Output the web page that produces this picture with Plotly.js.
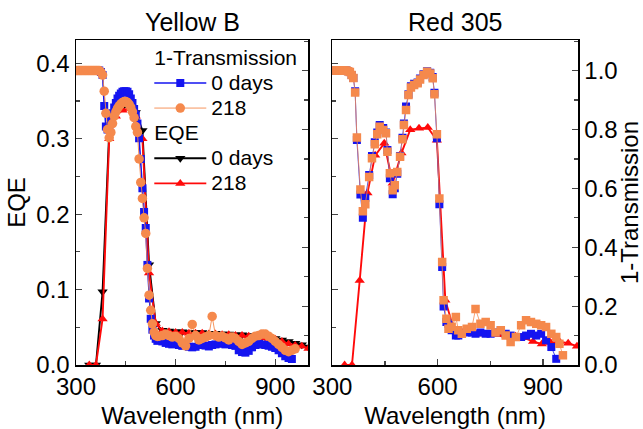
<!DOCTYPE html>
<html>
<head>
<meta charset="utf-8">
<script src="https://cdn.plot.ly/plotly-3.0.1.min.js"></script>
<style>html,body{margin:0;padding:0;background:#fff;}#chart{width:643px;height:429px;}</style>
</head>
<body>
<div id="chart"></div>
<script>
// ---------- Yellow B : 1-Transmission ----------
const wlYB_T0 = [300,305,310,315,320,325,330,335,340,345,350,355,360,365,370,375,380,385,390,395,400,405,410,415,420,425,430,435,440,445,450,455,460,465,470,475,480,485,490,495,500,505,510,515,520,525,530,535,540,545,
  550,560,570,580,590,600,610,620,630,640,650,660,670,680,690,700,710,720,730,740,750,760,770,780,790,800,810,820,830,840,850,860,870,880,890,900,910,920,930,940,950];
const tYB_0 = [1,1,1,1,1,1,1,1,1,1,1,1,1,1,1,0.995,0.985,0.88,0.81,0.80,0.81,0.835,0.855,0.875,0.89,0.905,0.915,0.922,0.928,0.93,0.93,0.928,0.92,0.905,0.89,0.87,0.85,0.82,0.77,0.70,0.60,0.52,0.465,0.34,0.226,0.157,0.12,0.10,0.089,0.082,
  0.085,0.08,0.075,0.072,0.07,0.072,0.068,0.065,0.07,0.062,0.06,0.062,0.075,0.068,0.066,0.063,0.068,0.07,0.072,0.075,0.07,0.072,0.068,0.065,0.05,0.044,0.042,0.048,0.06,0.068,0.072,0.07,0.068,0.065,0.062,0.058,0.05,0.04,0.03,0.024,0.02];
const wlYB_T218 = [300,305,310,315,320,325,330,335,340,345,350,355,360,365,370,375,380,385,390,395,400,405,410,415,420,425,430,435,440,445,450,455,460,465,470,475,480,485,490,495,500,505,510,515,520,525,530,535,540,545,
  550,560,570,580,590,600,610,620,630,640,650,660,670,680,690,700,710,720,730,740,750,760,770,780,790,800,810,820,830,840,850,860,870,880,890,900,910,920,930,940,950,960];
const tYB_218 = [1,1,1,1,1,1,1,1,1,1,1,1,1,1,1,0.995,0.985,0.93,0.855,0.80,0.772,0.79,0.82,0.845,0.86,0.872,0.88,0.887,0.892,0.895,0.895,0.892,0.885,0.875,0.86,0.84,0.81,0.79,0.70,0.62,0.566,0.50,0.447,0.328,0.237,0.186,0.14,0.112,0.10,0.097,
  0.098,0.10,0.105,0.10,0.095,0.098,0.09,0.075,0.065,0.09,0.138,0.10,0.085,0.09,0.095,0.10,0.165,0.10,0.095,0.098,0.092,0.085,0.095,0.09,0.08,0.07,0.075,0.08,0.09,0.098,0.10,0.105,0.105,0.098,0.09,0.08,0.07,0.06,0.05,0.045,0.05,0.055];
// ---------- Yellow B : EQE ----------
const wlYB_E = [340,360,380,400,420,440,460,480,500,520,540,560,580,600,620,640,660,680,700,720,740,760,780,800,820,840,860,880,900,920,940,960,980,1000];
const eYB_0 = [0,0,0.097,0.31,0.335,0.342,0.343,0.335,0.311,0.133,0.055,0.046,0.045,0.044,0.044,0.043,0.043,0.043,0.042,0.042,0.041,0.041,0.04,0.04,0.039,0.038,0.037,0.036,0.035,0.033,0.031,0.029,0.027,0.024];
const eYB_218 = [0,0,0.061,0.30,0.33,0.338,0.34,0.33,0.30,0.122,0.055,0.045,0.044,0.043,0.043,0.042,0.042,0.042,0.041,0.041,0.04,0.04,0.039,0.039,0.038,0.037,0.036,0.035,0.034,0.031,0.028,0.026,0.025,0.022];
// ---------- Red 305 : 1-Transmission ----------
const wlR_T0 = [300,305,310,315,320,325,330,335,340,345,350,355,360,365,370,380,387,394,405,413,421,428,435,445,453,457,464,472,478,485,493,500,504,510,517,524,533,543,550,560,570,579,586,591,598,605,613,617,625,631,640,652,659,669,683,698,708,722,737,751,765,780,794,808,823,838,852,866,881,895,909,924,938];
const tR_0 = [1,1,1,1,1,1,1,1,1,0.998,0.995,0.985,0.975,0.93,0.764,0.579,0.50,0.568,0.645,0.71,0.757,0.79,0.815,0.805,0.79,0.73,0.634,0.58,0.60,0.65,0.71,0.772,0.82,0.878,0.92,0.947,0.955,0.96,0.973,0.988,0.998,0.993,0.978,0.925,0.77,0.546,0.333,0.199,0.146,0.14,0.118,0.10,0.10,0.106,0.11,0.11,0.106,0.11,0.106,0.106,0.11,0.118,0.106,0.10,0.095,0.095,0.10,0.106,0.10,0.106,0.084,0.061,0.021];
const wlR_T218 = [300,305,310,315,320,325,330,335,340,345,350,355,360,365,370,380,387,394,405,413,421,428,435,445,453,457,464,472,478,485,493,500,504,510,517,524,533,543,550,560,570,579,586,591,598,605,613,617,625,631,640,652,659,669,683,698,708,722,737,751,765,780,794,808,823,838,852,866,881,895,909,924,938,947,957];
const tR_218 = [1,1,1,1,1,1,1,1,1,0.998,0.995,0.985,0.975,0.926,0.773,0.596,0.522,0.546,0.639,0.702,0.75,0.784,0.809,0.798,0.787,0.724,0.651,0.594,0.611,0.656,0.707,0.767,0.815,0.866,0.917,0.943,0.951,0.957,0.97,0.985,0.996,0.99,0.974,0.92,0.784,0.566,0.35,0.22,0.157,0.123,0.13,0.163,0.118,0.106,0.123,0.129,0.19,0.14,0.146,0.135,0.11,0.118,0.10,0.078,0.095,0.135,0.152,0.146,0.14,0.135,0.129,0.106,0.095,0.072,0.033];
// ---------- Red 305 : EQE ----------
const wlR_E = [335,356,378,400,422,448,472,497,522,547,572,598,622,647,672,697,722,747,772,797,822,847,872,897,922,947,972,997];
const eR_218 = [0,0,0.112,0.228,0.278,0.294,0.241,0.281,0.312,0.314,0.315,0.298,0.086,0.046,0.043,0.042,0.041,0.040,0.040,0.039,0.038,0.036,0.031,0.028,0.030,0.031,0.029,0.025];

const BLUE = '#1414f0', ORANGE = '#f5894c', RED = '#ff0a0a', BLACK = '#000000';
const LF = 21; // legend text px
const lbl = t => '<span style="font-size:' + LF + 'px">' + t + '</span>';

const traces = [
  {x: wlYB_T0, y: tYB_0, xaxis: 'x', yaxis: 'y2', type: 'scatter', mode: 'lines+markers',
   line: {color: BLUE, width: 1.6}, marker: {symbol: 'square', size: 8, color: BLUE},
   name: lbl('0 days'), legendgroup: 'T', legendgrouptitle: {text: lbl('1-Transmission'), font: {size: 17, color: '#000'}}},
  {x: wlYB_T218, y: tYB_218, xaxis: 'x', yaxis: 'y2', type: 'scatter', mode: 'lines+markers',
   line: {color: ORANGE, width: 0.9}, marker: {symbol: 'circle', size: 9.5, color: ORANGE},
   name: lbl('218'), legendgroup: 'T'},
  {x: wlYB_E, y: eYB_0, xaxis: 'x', yaxis: 'y', type: 'scatter', mode: 'lines+markers',
   line: {color: BLACK, width: 1.9}, marker: {symbol: 'triangle-down', size: 9, color: BLACK},
   name: lbl('0 days'), legendgroup: 'E', legendgrouptitle: {text: lbl('EQE'), font: {size: 17, color: '#000'}}},
  {x: wlYB_E, y: eYB_218, xaxis: 'x', yaxis: 'y', type: 'scatter', mode: 'lines+markers',
   line: {color: RED, width: 1.9}, marker: {symbol: 'triangle-up', size: 9, color: RED},
   name: lbl('218'), legendgroup: 'E'},
  {x: wlR_T0, y: tR_0, xaxis: 'x2', yaxis: 'y4', type: 'scatter', mode: 'lines+markers', showlegend: false,
   line: {color: BLUE, width: 0.8}, marker: {symbol: 'square', size: 8, color: BLUE}},
  {x: wlR_T218, y: tR_218, xaxis: 'x2', yaxis: 'y4', type: 'scatter', mode: 'lines+markers', showlegend: false,
   line: {color: ORANGE, width: 0.8}, marker: {symbol: 'square', size: 8.5, color: ORANGE}},
  {x: wlR_E, y: eR_218, xaxis: 'x2', yaxis: 'y3', type: 'scatter', mode: 'lines+markers', showlegend: false,
   line: {color: RED, width: 1.9}, marker: {symbol: 'triangle-up', size: 9, color: RED}}
];

const FONT = 'Liberation Sans, Arial, sans-serif';
const xBase = {range: [300, 1000], tick0: 300, dtick: 300, ticks: 'inside', ticklen: 6, tickwidth: 1.2,
  minor: {dtick: 150, ticks: 'inside', ticklen: 4, tickwidth: 1.2, showgrid: false},
  showline: true, linewidth: 1.5, linecolor: '#000', mirror: true, showgrid: false, zeroline: false,
  tickfont: {size: 24, color: '#000'}, title: {text: 'Wavelength (nm)', font: {size: 24, color: '#000'}, standoff: 8}};
const yE = {range: [0, 0.431], tick0: 0, dtick: 0.1, tickformat: '.1f', ticks: 'inside', ticklen: 6, tickwidth: 1.2,
  minor: {dtick: 0.05, ticks: 'inside', ticklen: 4, tickwidth: 1.2, showgrid: false},
  showline: true, linewidth: 1.5, linecolor: '#000', showgrid: false, zeroline: false,
  tickfont: {size: 24, color: '#000'}};
const yT = {range: [0, 1.104], tick0: 0, dtick: 0.2, tickformat: '.1f', ticks: 'inside', ticklen: 6, tickwidth: 1.2,
  minor: {dtick: 0.1, ticks: 'inside', ticklen: 4, tickwidth: 1.2, showgrid: false},
  showline: true, linewidth: 1.5, linecolor: '#000', showgrid: false, zeroline: false, side: 'right',
  tickfont: {size: 24, color: '#000'}};

const layout = {
  width: 643, height: 429,
  margin: {l: 76, r: 65, t: 40, b: 64},
  paper_bgcolor: '#fff', plot_bgcolor: 'rgba(0,0,0,0)',
  font: {family: FONT, color: '#000'},
  showlegend: true,
  xaxis: Object.assign({}, xBase, {domain: [0, 0.4631], anchor: 'y'}),
  xaxis2: Object.assign({}, xBase, {domain: [0.5106, 1], anchor: 'y3'}),
  yaxis: Object.assign({}, yE, {anchor: 'x', domain: [0, 1], title: {text: 'EQE', font: {size: 24, color: '#000'}, standoff: 4}}),
  yaxis2: Object.assign({}, yT, {anchor: 'x', overlaying: 'y', showticklabels: false}),
  yaxis3: Object.assign({}, yE, {anchor: 'x2', domain: [0, 1], showticklabels: false}),
  yaxis4: Object.assign({}, yT, {anchor: 'x2', overlaying: 'y3', title: {text: '1-Transmission', font: {size: 24, color: '#000'}, standoff: 4}}),
  legend: {x: 0.146, y: 0.999, xanchor: 'left', yanchor: 'top', bgcolor: 'rgba(0,0,0,0)', borderwidth: 0,
    font: {size: 17, color: '#000', family: FONT}, tracegroupgap: 0, traceorder: 'grouped', itemwidth: 52},
  annotations: [
    {text: 'Yellow B', xref: 'paper', yref: 'paper', x: 0.2315, y: 1.055, xanchor: 'center', yanchor: 'middle', showarrow: false, font: {size: 25, color: '#000'}},
    {text: 'Red 305', xref: 'paper', yref: 'paper', x: 0.7553, y: 1.055, xanchor: 'center', yanchor: 'middle', showarrow: false, font: {size: 25, color: '#000'}}
  ]
};

Plotly.newPlot('chart', traces, layout, {displayModeBar: false, staticPlot: true});
</script>
</body>
</html>
